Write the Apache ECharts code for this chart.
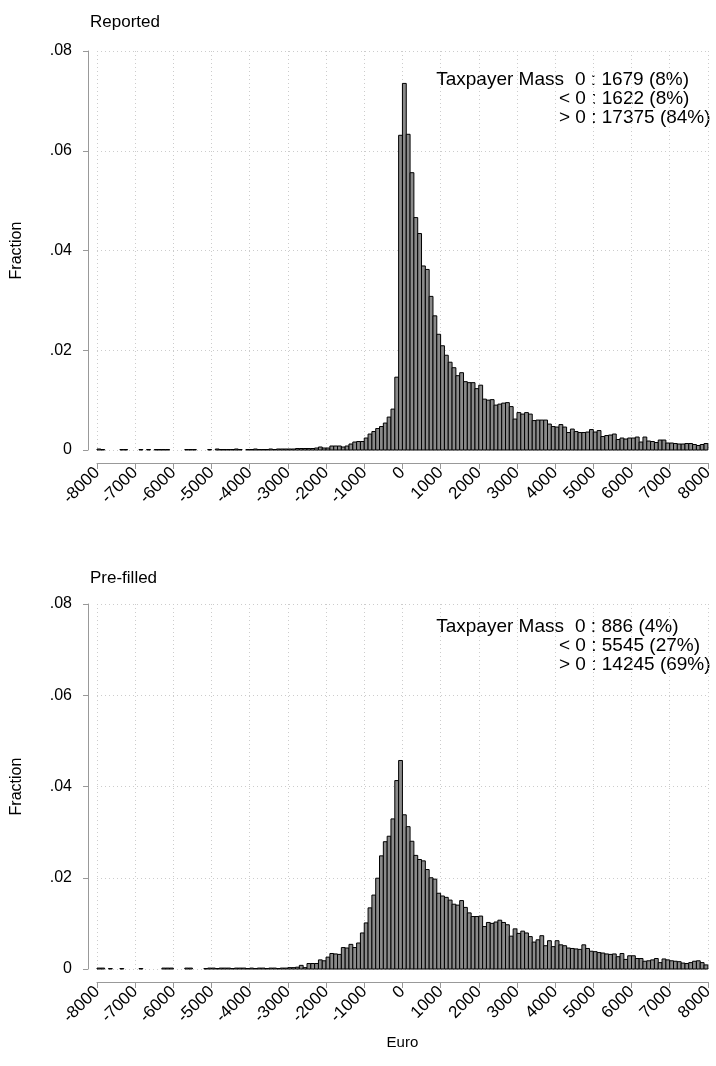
<!DOCTYPE html>
<html>
<head>
<meta charset="utf-8">
<script src="https://cdn.jsdelivr.net/npm/echarts@6/dist/echarts.min.js"></script>
<style>
html,body{margin:0;padding:0;background:#fff;}
#chart{width:716px;height:1066px;}
</style>
</head>
<body>
<div id="chart"></div>
<script>
// Bin lower edges (Euro), bin width 100
var binStarts = [
-8000,-7900,-7800,-7700,-7600,-7500,-7400,-7300,-7200,-7100,
-7000,-6900,-6800,-6700,-6600,-6500,-6400,-6300,-6200,-6100,
-6000,-5900,-5800,-5700,-5600,-5500,-5400,-5300,-5200,-5100,
-5000,-4900,-4800,-4700,-4600,-4500,-4400,-4300,-4200,-4100,
-4000,-3900,-3800,-3700,-3600,-3500,-3400,-3300,-3200,-3100,
-3000,-2900,-2800,-2700,-2600,-2500,-2400,-2300,-2200,-2100,
-2000,-1900,-1800,-1700,-1600,-1500,-1400,-1300,-1200,-1100,
-1000,-900,-800,-700,-600,-500,-400,-300,-200,-100,
0,100,200,300,400,500,600,700,800,900,
1000,1100,1200,1300,1400,1500,1600,1700,1800,1900,
2000,2100,2200,2300,2400,2500,2600,2700,2800,2900,
3000,3100,3200,3300,3400,3500,3600,3700,3800,3900,
4000,4100,4200,4300,4400,4500,4600,4700,4800,4900,
5000,5100,5200,5300,5400,5500,5600,5700,5800,5900,
6000,6100,6200,6300,6400,6500,6600,6700,6800,6900,
7000,7100,7200,7300,7400,7500,7600,7700,7800,7900
];
var binWidth = 100;

var reported = [
0.0002,0.0001,null,null,null,null,0.0001,0.0001,null,null,
null,0.0001,null,0.0001,null,0.0001,0.0001,0.0001,0.0001,null,
null,null,null,0.0001,0.0001,0.0001,null,null,null,0.0001,
null,0.0002,0.0001,0.0001,0.0001,0.0001,0.0002,0.0001,null,0.0001,
0.0001,0.0002,0.0001,0.0001,0.0001,0.0002,0.0001,0.0002,0.0002,0.0002,
0.0002,0.0002,0.0003,0.0003,0.0003,0.0003,0.0003,0.0004,0.0006,0.0004,
0.0004,0.0008,0.0008,0.0008,0.0006,0.0008,0.0012,0.0016,0.0017,0.0017,
0.0024,0.0032,0.0037,0.0043,0.0047,0.0054,0.0066,0.0082,0.0146,0.0631,
0.0735,0.0633,0.0556,0.0466,0.0434,0.0369,0.0362,0.0308,0.0269,0.0232,
0.0209,0.0190,0.0176,0.0165,0.0149,0.0155,0.0137,0.0135,0.0135,0.0123,
0.0130,0.0102,0.0100,0.0101,0.0090,0.0092,0.0094,0.0095,0.0087,0.0062,
0.0075,0.0072,0.0075,0.0072,0.0059,0.0060,0.0060,0.0060,0.0052,0.0047,
0.0046,0.0051,0.0046,0.0035,0.0042,0.0037,0.0035,0.0035,0.0036,0.0041,
0.0036,0.0039,0.0027,0.0029,0.0030,0.0032,0.0021,0.0024,0.0022,0.0024,
0.0024,0.0026,0.0016,0.0026,0.0018,0.0017,0.0015,0.0020,0.0020,0.0014,
0.0014,0.0013,0.0012,0.0012,0.0013,0.0013,0.0011,0.0009,0.0011,0.0013
];

var prefilled = [
0.0002,0.0002,null,0.0001,null,null,0.0001,null,null,null,
null,0.0001,null,null,null,null,null,0.0002,0.0002,0.0002,
null,null,null,0.0002,0.0002,null,null,null,0.0001,0.0002,
0.0002,0.0001,0.0002,0.0002,0.0002,0.0001,0.0002,0.0002,0.0002,0.0001,
0.0002,0.0001,0.0002,0.0002,0.0001,0.0002,0.0002,0.0001,0.0002,0.0002,
0.0003,0.0003,0.0004,0.0008,0.0003,0.0012,0.0012,0.0012,0.0020,0.0018,
0.0026,0.0034,0.0033,0.0032,0.0047,0.0046,0.0054,0.0047,0.0057,0.0079,
0.0101,0.0134,0.0162,0.0199,0.0248,0.0279,0.0291,0.0329,0.0413,0.0457,
0.0338,0.0312,0.0280,0.0249,0.0240,0.0237,0.0218,0.0200,0.0197,0.0166,
0.0160,0.0157,0.0151,0.0142,0.0140,0.0150,0.0135,0.0123,0.0115,0.0115,
0.0116,0.0093,0.0102,0.0100,0.0103,0.0107,0.0102,0.0097,0.0072,0.0088,
0.0078,0.0083,0.0079,0.0071,0.0059,0.0064,0.0073,0.0051,0.0062,0.0049,
0.0062,0.0053,0.0051,0.0046,0.0045,0.0044,0.0043,0.0053,0.0045,0.0039,
0.0038,0.0036,0.0035,0.0033,0.0032,0.0033,0.0027,0.0034,0.0021,0.0029,
0.0029,0.0023,0.0023,0.0017,0.0018,0.0020,0.0023,0.0014,0.0022,0.0020,
0.0018,0.0017,0.0016,0.0013,0.0012,0.0014,0.0017,0.0018,0.0014,0.0009
];

var yTicks = [0, 0.02, 0.04, 0.06, 0.08];
var xTicks = [-8000,-7000,-6000,-5000,-4000,-3000,-2000,-1000,0,1000,2000,3000,4000,5000,6000,7000,8000];

var panelTitles = ['Reported', 'Pre-filled'];
var massLabel = 'Taxpayer Mass';
var massReported = ['0 : 1679 (8%)', '< 0 : 1622 (8%)', '> 0 : 17375 (84%)'];
var massPrefilled = ['0 : 886 (4%)', '< 0 : 5545 (27%)', '> 0 : 14245 (69%)'];

var FONT = '"Liberation Sans", Arial, Helvetica, sans-serif';

function toData(vals) {
  var out = [];
  for (var i = 0; i < vals.length; i++) {
    if (vals[i] === null) continue;
    out.push([binStarts[i], binStarts[i] + binWidth, vals[i]]);
  }
  return out;
}

function renderBar(params, api) {
  var p0 = api.coord([api.value(0), api.value(2)]);
  var p1 = api.coord([api.value(1), 0]);
  return {
    type: 'rect',
    shape: { x: p0[0], y: p0[1], width: p1[0] - p0[0], height: p1[1] - p0[1] },
    style: { fill: '#8a8a8a', stroke: '#000', lineWidth: 1 }
  };
}

var gridCommon = { left: 97, right: 5 };
var grids = [
  Object.assign({ top: 51, height: 399 }, gridCommon),
  Object.assign({ top: 604, height: 365 }, gridCommon)
];

function xAxis(idx, showName) {
  return {
    type: 'value', gridIndex: idx, position: 'bottom',
    min: xTicks[0], max: xTicks[xTicks.length - 1], interval: 1000,
    offset: 13,
    name: showName ? 'Euro' : '',
    nameLocation: 'middle', nameGap: 53,
    nameTextStyle: { fontFamily: FONT, fontSize: 15, color: '#000' },
    axisLine: { show: true, onZero: false, lineStyle: { color: '#999', width: 1 } },
    axisTick: { show: true, length: 6, lineStyle: { color: '#999' } },
    axisLabel: { rotate: 45, margin: 7, fontFamily: FONT, fontSize: 17, color: '#000',
      formatter: function (v) { return String(v); } },
    splitLine: { show: true, lineStyle: { color: '#cccccc', type: [1, 3], width: 1 } }
  };
}
function yAxis(idx) {
  return {
    type: 'value', gridIndex: idx, position: 'left',
    min: yTicks[0], max: yTicks[yTicks.length - 1], interval: 0.02,
    offset: 9,
    name: 'Fraction', nameLocation: 'middle', nameGap: 63, nameRotate: 90,
    nameTextStyle: { fontFamily: FONT, fontSize: 16, color: '#000' },
    axisLine: { show: true, onZero: false, lineStyle: { color: '#999', width: 1 } },
    axisTick: { show: true, length: 5, lineStyle: { color: '#999' } },
    axisLabel: {
      margin: 16, fontFamily: FONT, fontSize: 16, color: '#000',
      formatter: function (v) { return v === 0 ? '0' : v.toFixed(2).replace(/^0/, ''); }
    },
    splitLine: { show: true, lineStyle: { color: '#cccccc', type: [1, 3], width: 1 } }
  };
}

function textEl(x, y, t, align, size) {
  return { type: 'text', x: x, y: y, style: { text: t, fontFamily: FONT, fontSize: size, fill: '#000', textAlign: align, textVerticalAlign: 'middle' } };
}

var graphics = [
  textEl(90, 22, panelTitles[0], 'left', 17),
  textEl(90, 578, panelTitles[1], 'left', 17),
  textEl(564, 80, massLabel, 'right', 19),
  textEl(575, 80, massReported[0], 'left', 19),
  textEl(559, 99, massReported[1], 'left', 19),
  textEl(559, 118, massReported[2], 'left', 19),
  textEl(564, 627, massLabel, 'right', 19),
  textEl(575, 627, massPrefilled[0], 'left', 19),
  textEl(559, 646, massPrefilled[1], 'left', 19),
  textEl(559, 665, massPrefilled[2], 'left', 19)
];

var chart = echarts.init(document.getElementById('chart'), null, { renderer: 'canvas' });
chart.setOption({
  animation: false,
  backgroundColor: '#fff',
  grid: grids,
  xAxis: [xAxis(0, false), xAxis(1, true)],
  yAxis: [yAxis(0), yAxis(1)],
  series: [
    { type: 'custom', xAxisIndex: 0, yAxisIndex: 0, renderItem: renderBar, data: toData(reported), encode: { x: [0, 1], y: 2 } },
    { type: 'custom', xAxisIndex: 1, yAxisIndex: 1, renderItem: renderBar, data: toData(prefilled), encode: { x: [0, 1], y: 2 } }
  ],
  graphic: graphics
});
</script>
</body>
</html>
